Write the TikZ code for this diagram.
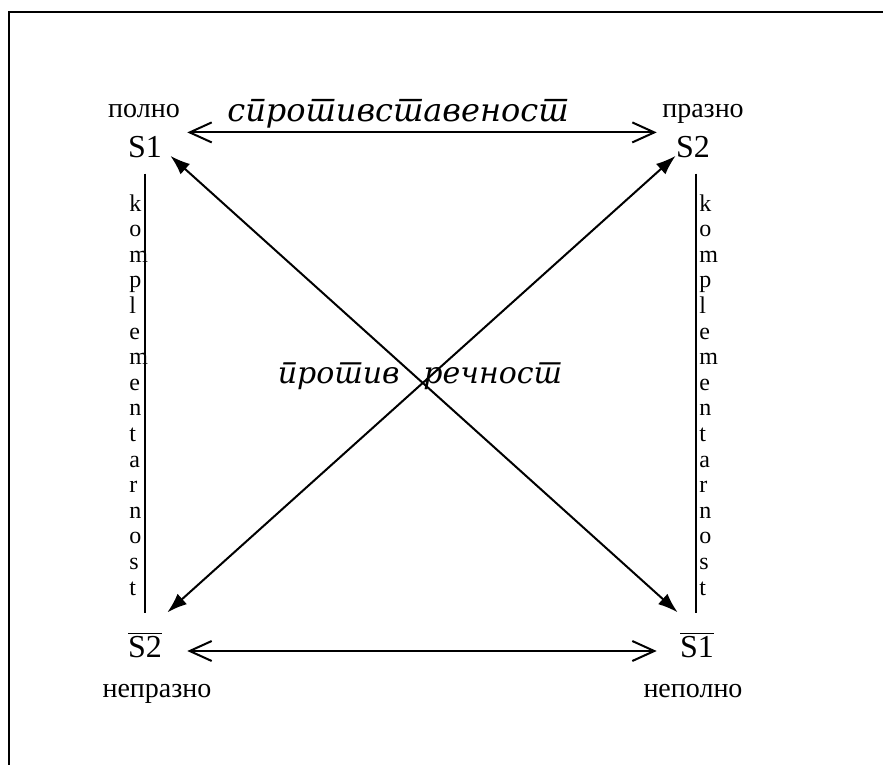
\documentclass[tikz,border=0pt]{standalone}
\usepackage{fontspec}
\setmainfont{Liberation Serif}
\newfontfamily\srbfont[Script=Cyrillic, Language=Serbian]{DejaVu Serif}
\usetikzlibrary{arrows.meta, positioning}

\begin{document}
\begin{tikzpicture}[
    x=0.5pt, y=-0.5pt,
    term/.style    = {inner sep=0pt, font=\fontsize{16}{18}\selectfont},
    note/.style    = {inner sep=0pt, font=\fontsize{14}{16}\selectfont},
    rel/.style     = {inner sep=0pt, font=\srbfont\itshape\fontsize{15}{17}\selectfont},
    vlbl/.style    = {inner sep=0pt, align=left, font=\fontsize{12}{12.8}\selectfont},
    dblarr/.style  = {{Straight Barb[length=11pt,width=10pt]}-{Straight Barb[length=11pt,width=10pt]}, line width=1pt},
    diagarr/.style = {{Latex[length=10pt,width=7pt]}-{Latex[length=10pt,width=7pt]}, line width=1pt},
    side/.style    = {line width=0.8pt},
]
    \useasboundingbox (0,0) rectangle (883,765);

    % ── Okvir ──
    \coordinate (frame-bl) at (9,765);
    \coordinate (frame-tl) at (9,12);
    \coordinate (frame-tr) at (883,12);
    \draw[line width=1pt] (frame-bl) -- (frame-tl) -- (frame-tr);

    % ── Temi ──
    \node[term, anchor=base] (s1)  at (145,157) {S1};
    \node[term, anchor=base] (s2)  at (693,157) {S2};
    \node[term, anchor=base] (ns2) at (145,657) {$\overline{\mbox{S2}}$};
    \node[term, anchor=base] (ns1) at (697,657) {$\overline{\mbox{S1}}$};

    \node[note, anchor=base] (full)   at (144,118) {полно};
    \node[note, anchor=base] (empty)  at (703,118) {празно};
    \node[note, anchor=base] (nempty) at (157,697) {непразно};
    \node[note, anchor=base] (nfull)  at (693,697) {неполно};

    % ── Odnosi ──
    \node[rel, anchor=base, font=\srbfont\itshape\fontsize{16}{18}\selectfont] (contr) at (398,121) {спротивставеност};
    \node[rel, anchor=base east] (cd1) at (400,383) {против};
    \node[rel, anchor=base west] (cd2) at (423,383) {речност};

    \node[vlbl, anchor=north west] (kleft)  at (129,194) {k\\o\\m\\p\\l\\e\\m\\e\\n\\t\\a\\r\\n\\o\\s\\t};
    \node[vlbl, anchor=north west] (kright) at (699,194) {k\\o\\m\\p\\l\\e\\m\\e\\n\\t\\a\\r\\n\\o\\s\\t};

    % ── Strelki ──
    \draw[dblarr] ([xshift=12.5pt,yshift=1.5pt]s1.north east) -- ([xshift=-9.5pt,yshift=1.5pt]s2.north west);
    \draw[dblarr] ([xshift=12.5pt,yshift=3pt]ns2.base east) -- ([xshift=-11.5pt,yshift=3pt]ns1.base west);
    \draw[diagarr] ([xshift=4pt,yshift=1pt]s1.south east) -- ([xshift=-1pt,yshift=9.5pt]ns1.north west);
    \draw[diagarr] ([yshift=1pt]s2.south west) -- ([xshift=2.5pt,yshift=9.5pt]ns2.north east);

    % ── Linii za komplementarnost ──
    \draw[side] ([yshift=-8pt]s1.south) -- ([yshift=9pt]ns2.north);
    \draw[side] ([xshift=1.5pt,yshift=-8pt]s2.south) -- ([xshift=-0.5pt,yshift=9pt]ns1.north);

\end{tikzpicture}
\end{document}
